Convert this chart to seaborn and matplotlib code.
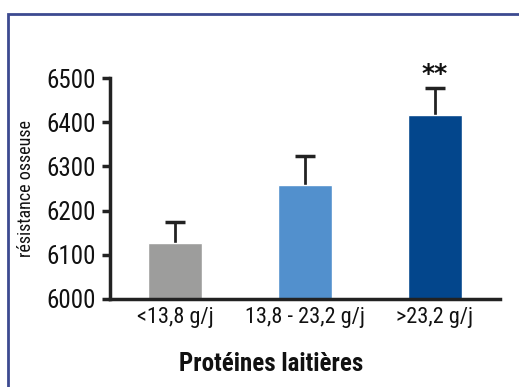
import matplotlib
matplotlib.use("Agg")
import matplotlib.pyplot as plt
import seaborn as sns
import pandas as pd
from matplotlib.patches import Rectangle

# Data
categories = ["<13,8 g/j", "13,8 - 23,2 g/j", ">23,2 g/j"]
means = [6127, 6258, 6416]
sem = [48, 65, 61]
colors = ["#9d9d9c", "#5290cd", "#03468c"]
yticks = [6000, 6100, 6200, 6300, 6400, 6500]

sns.set_theme(style="white")
plt.rcParams["font.family"] = ["Roboto Condensed", "Archivo Narrow", "DejaVu Sans"]

df = pd.DataFrame({"cat": categories, "val": means})

fig = plt.figure(figsize=(5.19, 3.87), dpi=100)
ax = fig.add_axes([110 / 519, 1 - 299 / 387, 390 / 519, 221 / 387])

sns.barplot(data=df, x="cat", y="val", hue="cat", palette=colors,
            order=categories, hue_order=categories, legend=False,
            width=0.41, errorbar=None, ax=ax, saturation=1)

# Upper error bars only
eb = ax.errorbar(range(len(categories)), means, yerr=[[0] * len(sem), sem],
                 fmt="none", ecolor="#222222", elinewidth=2, capsize=7.5,
                 capthick=2.5, zorder=1)
eb[1][0].set_visible(False)
for b in ax.patches:
    b.set_zorder(2)

ax.set_ylim(6000, 6500)
ax.set_xlim(-0.5, 2.5)
ax.set_yticks(yticks)
ax.set_yticklabels([str(t) for t in yticks], fontsize=18)
ax.tick_params(axis="y", direction="out", length=6, width=2.5, color="#222222",
               pad=4, left=True)
ax.tick_params(axis="x", length=0, labelsize=16, pad=6)
for lab in ax.get_xticklabels() + ax.get_yticklabels():
    lab.set_color("#111111")

for s in ["top", "right"]:
    ax.spines[s].set_visible(False)
for s in ["left", "bottom"]:
    ax.spines[s].set_linewidth(2.5)
    ax.spines[s].set_color("#222222")

ax.set_ylabel("résistance osseuse", fontsize=13, labelpad=8, color="#111111")
ax.set_xlabel("Protéines laitières", fontsize=18, fontweight="bold",
              color="#111111")
ax.xaxis.set_label_coords((271 - 110) / 390, -53 / 221)

# Significance marker
ax.text(2, means[2] + sem[2] + 6, "**", ha="center", va="bottom",
        fontsize=18, fontweight="bold", color="#111111",
        family=["DejaVu Sans"])

# Frame around the figure
fig.patches.append(Rectangle((7.5 / 519, -0.1), 1.2, 1 - 13.5 / 387 + 0.1,
                             transform=fig.transFigure, fill=False,
                             edgecolor="#3c4a90", linewidth=2))

fig.savefig("out.png", dpi=100)
